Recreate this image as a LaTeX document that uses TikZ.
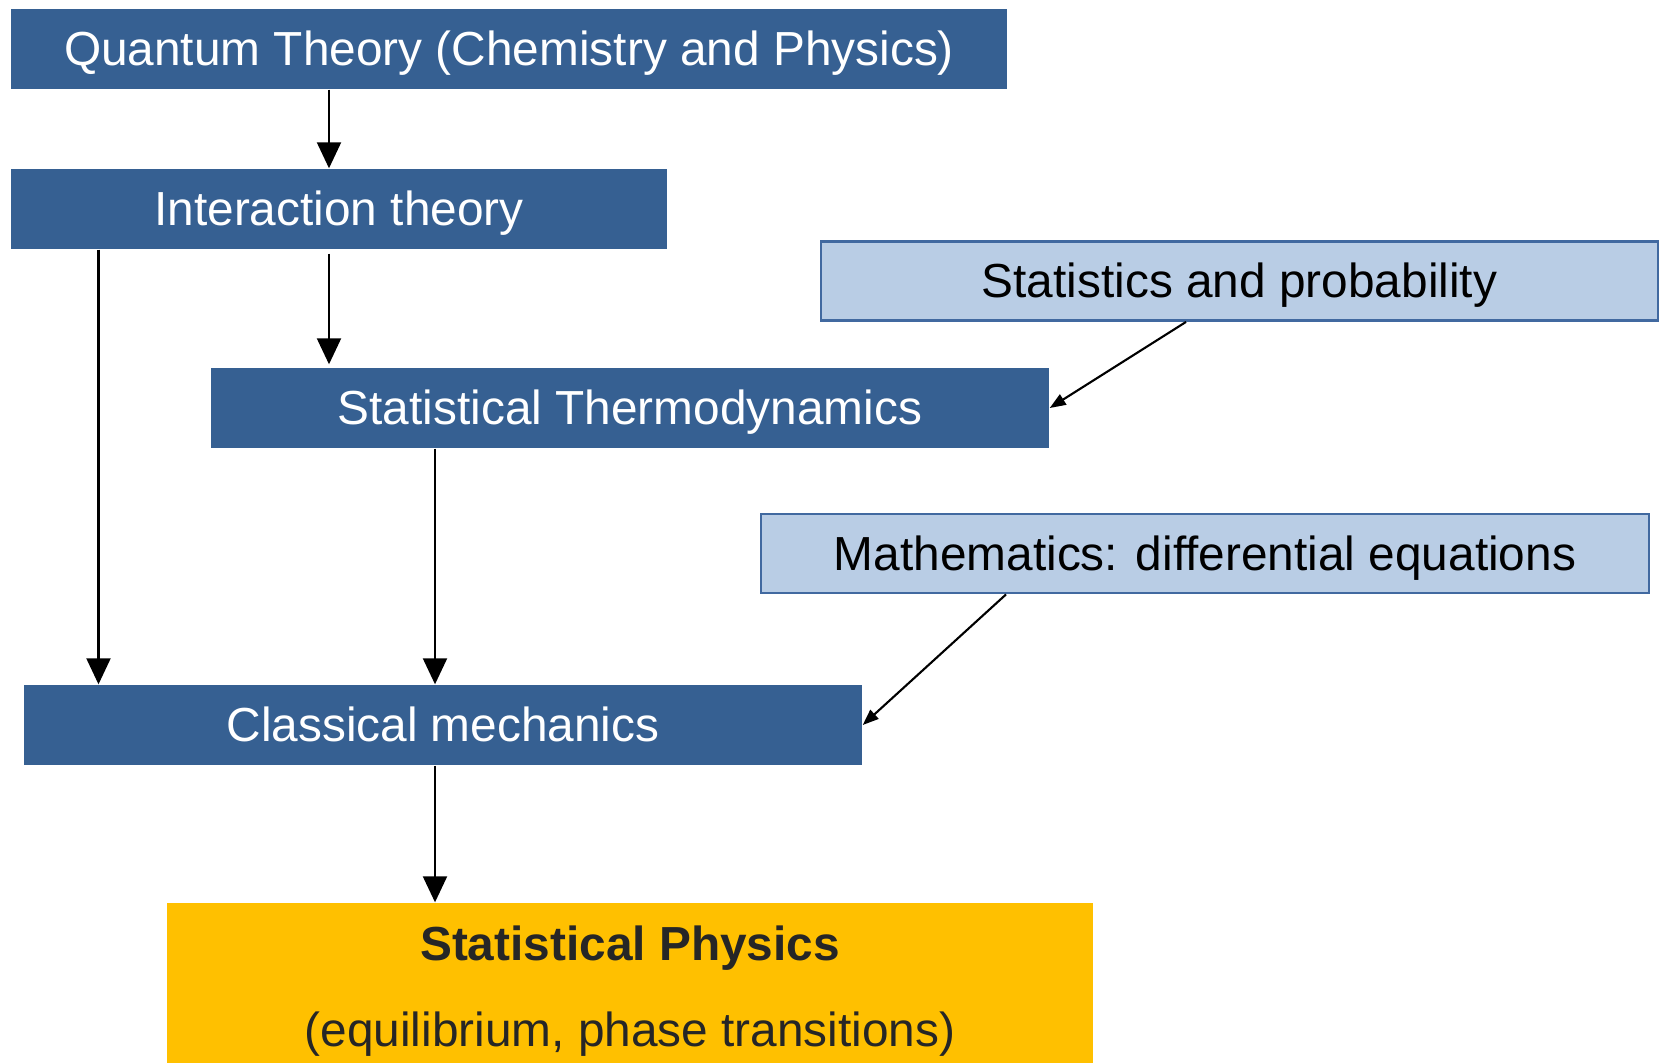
\documentclass[tikz,border=0pt]{standalone}
\usepackage{fontspec}
\setmainfont{Liberation Sans}
\usetikzlibrary{arrows.meta,positioning}
\definecolor{darkbox}{RGB}{54,96,146}
\definecolor{lightbox}{RGB}{185,205,229}
\definecolor{lightedge}{RGB}{65,105,160}
\definecolor{gold}{RGB}{255,192,0}
\definecolor{physink}{RGB}{38,38,38}

\begin{document}
\begin{tikzpicture}[
	dark/.style={fill=darkbox, text=white, minimum height=0.8cm, inner sep=0pt,
		text height=0.35cm, text depth=0.02cm, font=\fontsize{13.6}{16}\selectfont},
	light/.style={fill=lightbox, draw=lightedge, line width=0.8pt, minimum height=0.79cm,
		inner sep=0pt, text height=0.35cm, text depth=0.02cm, font=\fontsize{13.6}{16}\selectfont},
	arr/.style={-{Triangle[length=0.26cm, width=0.24cm]}, line width=0.6pt},
	sarr/.style={-{Triangle[length=0.16cm, width=0.12cm]}, line width=0.6pt}
]
	\useasboundingbox (0,0) rectangle (16.61,-10.62);

	% Main chain of theories
	\node[dark, minimum width=9.96cm] (quantum) at (5.09,-0.49)
		{Quantum Theory (Chemistry and Physics)};
	\node[dark, minimum width=6.56cm] (inter) at (3.39,-2.09)
		{Interaction theory};
	\node[dark, minimum width=8.38cm] (thermo) at (6.30,-4.08)
		{Statistical Thermodynamics};
	\node[dark, minimum width=8.38cm] (classic) at (4.43,-7.25)
		{Classical mechanics};

	% Supporting fields
	\node[light, minimum width=8.37cm] (stats) at (12.395,-2.81)
		{Statistics and probability};
	\node[light, minimum width=8.88cm] (maths) at (12.05,-5.535)
		{Mathematics: differential equations};

	% Result
	\node[fill=gold, text=physink, minimum width=9.26cm, minimum height=1.76cm,
		inner sep=0pt, align=center, font=\fontsize{13.6}{24.4}\selectfont] (phys) at (6.30,-9.91)
		{\textbf{Statistical Physics}\\(equilibrium, phase transitions)};

	% Vertical arrows
	\draw[arr] (quantum.south -| 3.29,0) -- (inter.north -| 3.29,0);
	\draw[arr, shorten <=0.04cm, shorten >=0.03cm] (inter.south -| 3.29,0) -- (thermo.north -| 3.29,0);
	\draw[arr] (inter.south -| 0.985,0) -- (classic.north -| 0.985,0);
	\draw[arr] (thermo.south -| 4.35,0) -- (classic.north -| 4.35,0);
	\draw[arr] (classic.south -| 4.35,0) -- (phys.north -| 4.35,0);

	% Diagonal arrows from supporting fields
	\draw[sarr] ([xshift=-0.535cm]stats.south) -- (thermo.east);
	\draw[sarr] ([xshift=-1.99cm]maths.south) -- (classic.east);
\end{tikzpicture}
\end{document}
